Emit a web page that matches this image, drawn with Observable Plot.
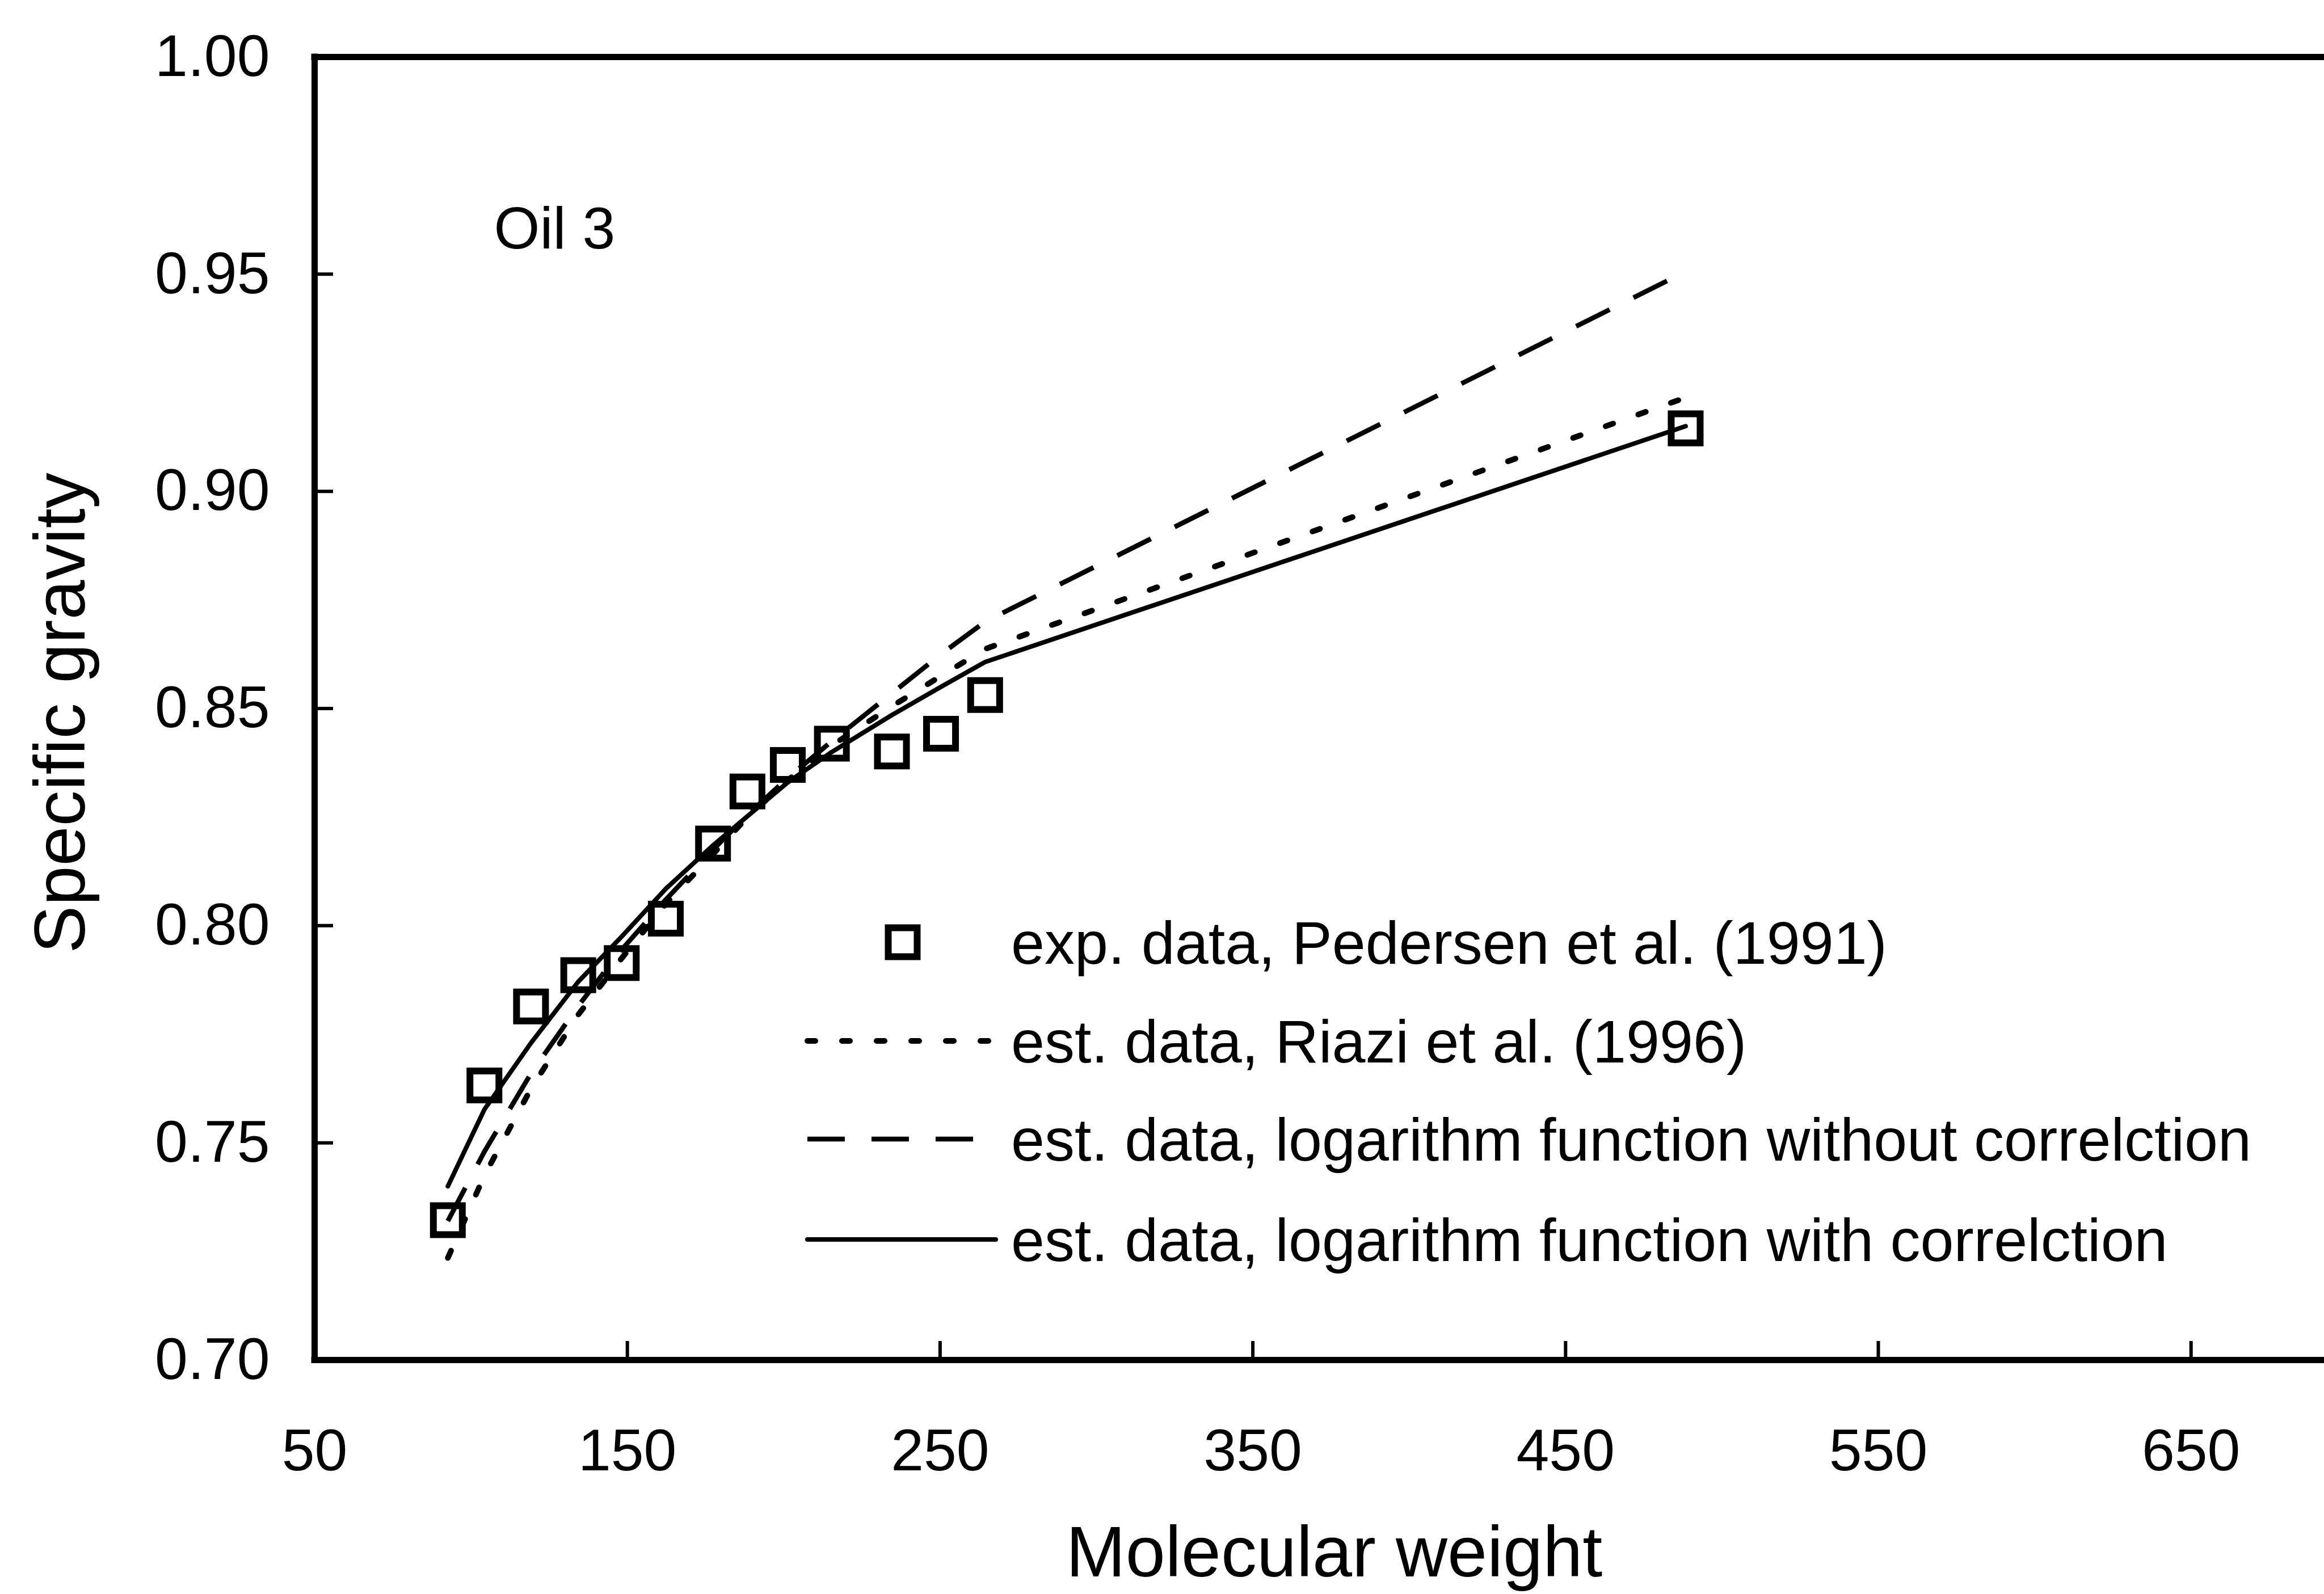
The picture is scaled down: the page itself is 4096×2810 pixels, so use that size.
<!DOCTYPE html>
<html>
<head>
<meta charset="utf-8">
<script src="https://cdn.jsdelivr.net/npm/d3@7"></script>
<script src="https://cdn.jsdelivr.net/npm/@observablehq/plot@0.6"></script>
<style>
html, body { margin: 0; padding: 0; background: #fff; }
#wrap { position: relative; width: 4096px; height: 2810px; overflow: hidden; background: #fff; }
#legend { position: absolute; left: 0; top: 0; pointer-events: none; }
</style>
</head>
<body>
<div id="wrap"></div>
<script>
// ---- data ----
const molecularWeight = [92.6, 104.3, 119.2, 134.3, 148.2, 162.3, 177.4, 188.4, 201.3, 215.4, 234.6, 250.3, 264.4, 488.4];
const sgExperimental  = [0.7322, 0.7632, 0.7814, 0.7886, 0.7914, 0.8016, 0.8189, 0.8309, 0.8370, 0.8419, 0.8401, 0.8442, 0.8531, 0.9145];
const sgRiazi         = [0.7235, 0.7425, 0.7625, 0.7795, 0.7925, 0.8050, 0.8165, 0.8250, 0.8335, 0.8415, 0.8505, 0.8575, 0.8637, 0.9216];
const sgLogNoCorr     = [0.7320, 0.7480, 0.7660, 0.7815, 0.7945, 0.8060, 0.8175, 0.8255, 0.8340, 0.8425, 0.8535, 0.8625, 0.8700, 0.9506];
const sgLogCorr       = [0.7400, 0.7577, 0.7730, 0.7871, 0.7975, 0.8085, 0.8185, 0.8252, 0.8330, 0.8400, 0.8485, 0.8550, 0.8607, 0.9150];

const xTicks = [50, 150, 250, 350, 450, 550, 650];
const yTicks = [0.70, 0.75, 0.80, 0.85, 0.90, 0.95, 1.00];
const xDomain = [50, 692.6];
const yDomain = [0.70, 1.00];

const xTitle = "Molecular weight";
const yTitle = "Specific gravity";
const panelLabel = "Oil 3";
const seriesLabels = [
  "exp. data, Pedersen et al. (1991)",
  "est. data, Riazi et al. (1996)",
  "est. data, logarithm function without correlction",
  "est. data, logarithm function with correlction"
];

// ---- tables ----
const toRows = (ys) => molecularWeight.map((x, i) => ({x, y: ys[i]}));
const expRows = toRows(sgExperimental);
const riaziRows = toRows(sgRiazi);
const noCorrRows = toRows(sgLogNoCorr);
const corrRows = toRows(sgLogCorr);

const FONT = "'Liberation Sans', Arial, Helvetica, sans-serif";
const dotted = {strokeWidth: 10, strokeDasharray: "14,47", strokeLinecap: "round"};
const dashed = {strokeWidth: 8.5, strokeDasharray: "66,47", strokeLinecap: "butt"};
const solid = {strokeWidth: 8, strokeLinecap: "round"};

const plot = Plot.plot({
  width: 4096,
  height: 2810,
  marginLeft: 554,
  marginRight: 0,
  marginTop: 100,
  marginBottom: 413,
  x: {domain: xDomain},
  y: {domain: yDomain},
  style: {fontFamily: FONT, fontSize: "104px", color: "#000", background: "#fff"},
  marks: [
    Plot.ruleY(yDomain, {stroke: "#000", strokeWidth: 11, strokeLinecap: "square"}),
    Plot.ruleX([xDomain[0]], {stroke: "#000", strokeWidth: 11, strokeLinecap: "square"}),
    Plot.axisX(xTicks, {tickSize: -33, tickPadding: 154, strokeWidth: 6, label: null, fontSize: 104, tickFormat: d3.format("d")}),
    Plot.axisY(yTicks, {tickSize: -33, tickPadding: 112, strokeWidth: 6, label: null, fontSize: 104, tickFormat: d3.format(".2f")}),
    Plot.line(riaziRows, {x: "x", y: "y", stroke: "#000", ...dotted}),
    Plot.line(noCorrRows, {x: "x", y: "y", stroke: "#000", ...dashed}),
    Plot.line(corrRows, {x: "x", y: "y", stroke: "#000", strokeLinejoin: "round", ...solid}),
    Plot.dot(expRows, {x: "x", y: "y", symbol: "square", r: 28.8, stroke: "#000", strokeWidth: 12, fill: "none"}),
    Plot.text([panelLabel], {frameAnchor: "top-left", dx: 316, dy: 304, textAnchor: "start", lineAnchor: "middle", fontSize: 104, fill: "#000"}),
    Plot.text([xTitle], {frameAnchor: "bottom", dx: 26, dy: 341, textAnchor: "middle", lineAnchor: "middle", fontSize: 126, fill: "#000"}),
    Plot.text([yTitle], {frameAnchor: "left", dx: -446, dy: 8, rotate: -90, textAnchor: "middle", lineAnchor: "middle", fontSize: 126, fill: "#000"})
  ]
});
const wrap = document.getElementById("wrap");
wrap.appendChild(plot);

// ---- legend (inside the plot area) ----
const legendFont = 106;
const rowY = [1661, 1835, 2008, 2185];
const lineX0 = 1423;
const lineX1 = [null, 1751, 1719, 1755];
const textX = 1782;
const legend = d3.select(wrap).append("svg")
  .attr("id", "legend")
  .attr("width", 4096).attr("height", 2810)
  .attr("font-family", FONT).attr("font-size", legendFont);

legend.append("rect")
  .attr("x", 1591 - 25.5).attr("y", rowY[0] - 25.5)
  .attr("width", 51).attr("height", 51)
  .attr("fill", "none").attr("stroke", "#000").attr("stroke-width", 12);

const styles = [null, dotted, dashed, solid];
for (let i = 1; i < 4; i++) {
  const s = styles[i];
  legend.append("line")
    .attr("x1", lineX0).attr("x2", lineX1[i])
    .attr("y1", rowY[i]).attr("y2", rowY[i])
    .attr("stroke", "#000")
    .attr("stroke-width", s.strokeWidth)
    .attr("stroke-dasharray", s.strokeDasharray || null)
    .attr("stroke-linecap", s.strokeLinecap);
}
seriesLabels.forEach((t, i) => {
  legend.append("text")
    .attr("x", textX).attr("y", rowY[i] + 0.358 * legendFont)
    .attr("fill", "#000")
    .text(t);
});
</script>
</body>
</html>
